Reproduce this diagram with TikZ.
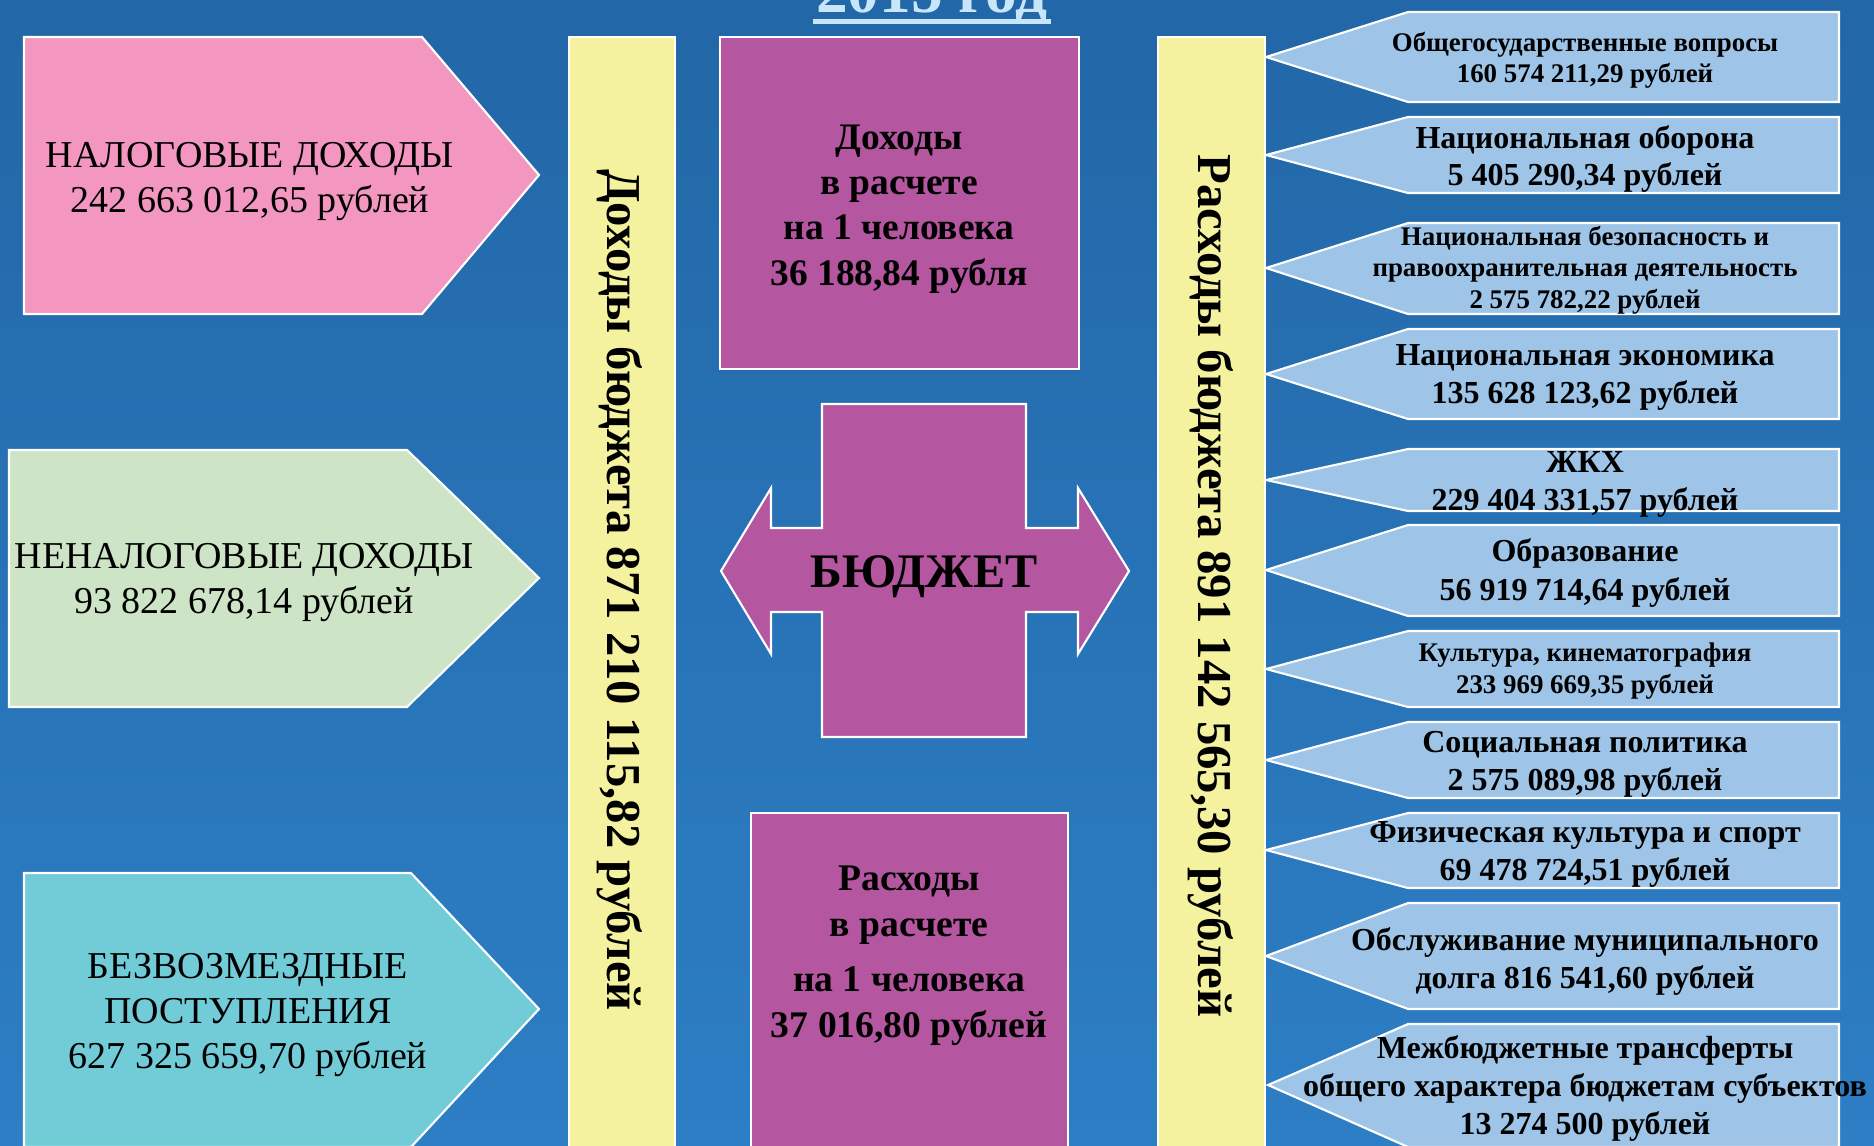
\documentclass[tikz,border=0pt]{standalone}
\usepackage{fontspec}
\setmainfont{Liberation Serif}
\usetikzlibrary{positioning}

\definecolor{bgtop}{RGB}{34,103,167}
\definecolor{bgbottom}{RGB}{45,126,197}
\definecolor{taxpink}{RGB}{243,151,192}
\definecolor{nontaxgreen}{RGB}{205,229,198}
\definecolor{grantcyan}{RGB}{114,204,216}
\definecolor{baryellow}{RGB}{244,242,159}
\definecolor{budgetpurple}{RGB}{180,86,160}
\definecolor{costblue}{RGB}{158,197,232}
\definecolor{titleblue}{RGB}{200,230,250}

\begin{document}
\begin{tikzpicture}[x=0.01cm,y=-0.01cm,
	shapeline/.style={draw=white,line width=0.6pt},
	incometext/.style={align=center,inner sep=0pt,font=\fontsize{10.8}{12.8}\selectfont},
	percapita/.style={align=center,inner sep=0pt,font=\fontsize{10.65}{12.9}\selectfont\bfseries},
	bartext/.style={inner sep=0pt,rotate=-90,font=\fontsize{13.85}{16}\selectfont\bfseries},
	costbig/.style={align=center,inner sep=0pt,font=\fontsize{9.1}{10.8}\selectfont\bfseries},
	costsmall/.style={align=center,inner sep=0pt,font=\fontsize{7.65}{8.9}\selectfont\bfseries}]
	\useasboundingbox (0,0) rectangle (1874,1145);
	\clip (0,0) rectangle (1874,1145);
	\shade[top color=bgtop,bottom color=bgbottom] (0,0) rectangle (1874,1145);

	% title
	\node[anchor=base,inner sep=0pt,text=titleblue,font=\fontsize{18}{20}\selectfont\bfseries] (title) at (932,12) {2015 год};
	\fill[titleblue] (813,19) rectangle (1051,24);

	% income arrows
	\draw[shapeline,fill=taxpink] (24,37) -- (422,37) -- (539,175) -- (422,314) -- (24,314) -- cycle;
	\node[incometext] (tax) at (250,182) {НАЛОГОВЫЕ ДОХОДЫ\\242 663 012,65 рублей};
	\draw[shapeline,fill=nontaxgreen] (9,450) -- (407,450) -- (539,578) -- (407,707) -- (9,707) -- cycle;
	\node[incometext] (nontax) at (244,583) {НЕНАЛОГОВЫЕ ДОХОДЫ\\93 822 678,14 рублей};
	\draw[shapeline,fill=grantcyan] (24,873) -- (411,873) -- (539,1009) -- (411,1147) -- (24,1147) -- cycle;
	\node[incometext] (grants) at (248,1015) {БЕЗВОЗМЕЗДНЫЕ\\ПОСТУПЛЕНИЯ\\627 325 659,70 рублей};

	% budget bars
	\draw[shapeline,fill=baryellow] (569,37) rectangle (675,1147);
	\node[bartext] (incomebar) at (620,590) {Доходы бюджета 871 210 115,82 рублей};
	\draw[shapeline,fill=baryellow] (1158,37) rectangle (1265,1147);
	\node[bartext] (costbar) at (1211,586) {Расходы бюджета 891 142 565,30 рублей};

	% centre
	\draw[shapeline,fill=budgetpurple] (720,37) rectangle (1079,369);
	\node[percapita] (incomehead) at (899,209) {Доходы\\в расчете\\на 1 человека\\36 188,84 рубля};
	\draw[shapeline,fill=budgetpurple] (822,404) -- (1026,404) -- (1026,528) -- (1078,528) -- (1078,488) -- (1129,571)
		-- (1078,654) -- (1078,612) -- (1026,612) -- (1026,737) -- (822,737) -- (822,612) -- (771,612) -- (771,654)
		-- (721,571) -- (771,488) -- (771,528) -- (822,528) -- cycle;
	\node[anchor=base,inner sep=0pt,font=\fontsize{13.7}{16}\selectfont\bfseries] (budget) at (924,587) {БЮДЖЕТ};
	\draw[shapeline,fill=budgetpurple] (751,813) rectangle (1068,1147);
	\node[percapita,font=\fontsize{10.7}{13.1}\selectfont\bfseries] (costhead) at (909,956) {Расходы\\в расчете\\[2.6pt]на 1 человека\\37 016,80 рублей};

	% expense arrows
	\draw[shapeline,fill=costblue] (1266,57) -- (1408,12) -- (1839,12) -- (1839,102) -- (1408,102) -- cycle;
	\node[costsmall] (cost1) at (1585,60) {Общегосударственные вопросы\\160 574 211,29 рублей};
	\draw[shapeline,fill=costblue] (1266,155) -- (1408,117) -- (1839,117) -- (1839,193) -- (1408,193) -- cycle;
	\node[costbig] (cost2) at (1585,159) {Национальная оборона\\5 405 290,34 рублей};
	\draw[shapeline,fill=costblue] (1266,268) -- (1408,223) -- (1839,223) -- (1839,314) -- (1408,314) -- cycle;
	\node[costsmall,font=\fontsize{7.65}{9}\selectfont\bfseries] (cost3) at (1585,270) {Национальная безопасность и\\правоохранительная деятельность\\2 575 782,22 рублей};
	\draw[shapeline,fill=costblue] (1266,374) -- (1408,329) -- (1839,329) -- (1839,419) -- (1408,419) -- cycle;
	\node[costbig] (cost4) at (1585,377) {Национальная экономика\\135 628 123,62 рублей};
	\draw[shapeline,fill=costblue] (1266,480) -- (1408,449) -- (1839,449) -- (1839,511) -- (1408,511) -- cycle;
	\node[costbig] (cost5) at (1585,484) {ЖКХ\\229 404 331,57 рублей};
	\draw[shapeline,fill=costblue] (1266,570) -- (1408,525) -- (1839,525) -- (1839,616) -- (1408,616) -- cycle;
	\node[costbig,font=\fontsize{9.1}{11.3}\selectfont\bfseries] (cost6) at (1585,573) {Образование\\56 919 714,64 рублей};
	\draw[shapeline,fill=costblue] (1266,669) -- (1408,631) -- (1839,631) -- (1839,707) -- (1408,707) -- cycle;
	\node[costsmall] (cost7) at (1585,671) {Культура, кинематография\\233 969 669,35 рублей};
	\draw[shapeline,fill=costblue] (1266,760) -- (1408,722) -- (1839,722) -- (1839,798) -- (1408,798) -- cycle;
	\node[costbig] (cost8) at (1585,764) {Социальная политика\\2 575 089,98 рублей};
	\draw[shapeline,fill=costblue] (1266,850) -- (1408,813) -- (1839,813) -- (1839,888) -- (1408,888) -- cycle;
	\node[costbig] (cost9) at (1585,854) {Физическая культура и спорт\\69 478 724,51 рублей};
	\draw[shapeline,fill=costblue] (1266,956) -- (1408,903) -- (1839,903) -- (1839,1009) -- (1408,1009) -- cycle;
	\node[costbig] (cost10) at (1585,961) {Обслуживание муниципального\\долга 816 541,60 рублей};
	\draw[shapeline,fill=costblue] (1268,1085) -- (1408,1024) -- (1839,1024) -- (1839,1147) -- (1408,1147) -- cycle;
	\node[costbig] (cost11) at (1585,1088) {Межбюджетные трансферты\\общего характера бюджетам субъектов\\13 274 500 рублей};
\end{tikzpicture}
\end{document}
